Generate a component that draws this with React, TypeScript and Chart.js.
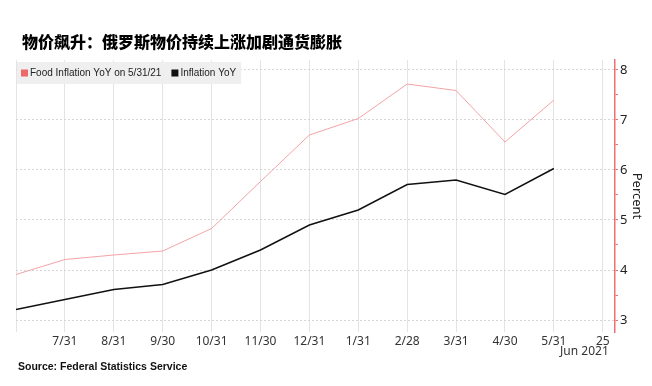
import { useEffect, useRef } from 'react';
import { Chart, registerables } from 'chart.js';

Chart.register(...registerables);

// Month-end dates (June 2020 .. May 2021), evenly spaced by month
const monthEnds = ['6/30', '7/31', '8/31', '9/30', '10/31', '11/30', '12/31', '1/31', '2/28', '3/31', '4/30', '5/31'];
// Axis tick labels (index 12 is the "25 Jun 2021" end tick)
const xTickLabels = ['', '7/31', '8/31', '9/30', '10/31', '11/30', '12/31', '1/31', '2/28', '3/31', '4/30', '5/31', '25'];
const xEndSubLabel = 'Jun 2021';
const foodInflation = [3.91, 4.21, 4.3, 4.38, 4.83, 5.77, 6.7, 7.03, 7.72, 7.59, 6.56, 7.4];
const inflation = [3.21, 3.41, 3.61, 3.71, 4.0, 4.4, 4.9, 5.2, 5.71, 5.8, 5.51, 6.03];
const yTickValues = [3, 3.5, 4, 4.5, 5, 5.5, 6, 6.5, 7, 7.5, 8];
const seriesNames = ['Food Inflation YoY on 5/31/21', 'Inflation YoY'];
const titleText = '物价飙升：俄罗斯物价持续上涨加剧通货膨胀';
const sourceText = 'Source: Federal Statistics Service';

export default function App() {
  const ref = useRef<HTMLCanvasElement | null>(null);

  useEffect(() => {
    document.body.style.margin = '0';
    const canvas = ref.current;
    if (!canvas) return;

    const legendPlugin = {
      id: 'customLegend',
      afterDraw(chart: any) {
        const ctx = chart.ctx as CanvasRenderingContext2D;
        ctx.save();
        ctx.font = '10px "Liberation Sans"';
        const items = chart.data.datasets.map((ds: any) => ({ label: ds.label, color: ds.legendColor }));
        const left = 17;
        const top = 62;
        const h = 22;
        let w = 4;
        items.forEach((it: any, i: number) => {
          w += 9 + ctx.measureText(it.label).width + (i < items.length - 1 ? 10 : 5);
        });
        ctx.fillStyle = '#efefef';
        ctx.fillRect(left, top, w, h);
        let cx = left + 4;
        const cy = top + h / 2;
        items.forEach((it: any) => {
          ctx.fillStyle = it.color;
          ctx.fillRect(cx, cy - 3.5, 7, 7);
          cx += 9;
          ctx.fillStyle = '#222';
          ctx.textBaseline = 'middle';
          ctx.textAlign = 'left';
          ctx.fillText(it.label, cx, cy);
          cx += ctx.measureText(it.label).width + 10;
        });
        const xs = chart.scales.x;
        const px = xs.getPixelForValue(xTickLabels.length - 1);
        ctx.font = '12px "Noto Sans"';
        ctx.textAlign = 'right';
        ctx.fillStyle = '#333';
        ctx.fillText(xEndSubLabel, px + 6, 352);
        ctx.restore();
      },
    };

    const tickFont = { family: '"Noto Sans"', size: 12 };

    const chart = new Chart(canvas, {
      type: 'line',
      data: {
        datasets: [
          {
            label: seriesNames[0],
            data: foodInflation.map((v, i) => ({ x: i, y: v })),
            borderColor: '#f4a3a6',
            borderWidth: 1,
            pointRadius: 0,
            tension: 0,
            legendColor: '#ec6a6a',
          } as any,
          {
            label: seriesNames[1],
            data: inflation.map((v, i) => ({ x: i, y: v })),
            borderColor: '#111111',
            borderWidth: 1.5,
            pointRadius: 0,
            tension: 0,
            legendColor: '#111111',
          } as any,
        ],
      },
      options: {
        animation: false,
        responsive: false,
        maintainAspectRatio: false,
        layout: { padding: { left: 16, top: 60, right: 0, bottom: 0 } },
        plugins: {
          legend: { display: false },
          tooltip: { enabled: false },
        },
        scales: {
          x: {
            type: 'linear',
            min: 0,
            max: 12.25,
            afterBuildTicks: (s: any) => {
              s.ticks = xTickLabels.map((_, i) => ({ value: i }));
            },
            afterFit: (s: any) => {
              s.height = 54;
            },
            grid: { color: '#e4e4e4', drawTicks: false },
            border: { display: false },
            ticks: {
              autoSkip: false,
              maxRotation: 0,
              padding: 2,
              color: '#333',
              font: tickFont,
              callback: (v: any) => xTickLabels[Math.round(Number(v))] ?? '',
            },
          },
          y: {
            type: 'linear',
            position: 'right',
            min: 2.76,
            max: 8.2,
            afterBuildTicks: (s: any) => {
              s.ticks = yTickValues.map((v) => ({ value: v }));
            },
            afterFit: (s: any) => {
              s.width = 37;
            },
            grid: {
              color: (c: any) => (c.tick && Number.isInteger(c.tick.value) ? '#d6d6d6' : 'rgba(0,0,0,0)'),
              tickColor: '#ee7070',
              tickLength: 3,
              drawTicks: true,
            },
            border: { display: true, color: '#ee7070', width: 1.5, dash: [2, 2] },
            ticks: {
              padding: 2,
              color: '#222',
              font: { family: '"Noto Sans"', size: 13 },
              callback: (v: any) => (Number.isInteger(Number(v)) ? String(v) : ''),
            },
            title: {
              display: true,
              text: 'Percent',
              color: '#222',
              font: { family: '"Noto Sans"', size: 13 },
              padding: 7,
            },
          },
        },
      },
      plugins: [legendPlugin],
    } as any);

    return () => chart.destroy();
  }, []);

  return (
    <div style={{ position: 'relative', width: 652, height: 386, background: '#fff', overflow: 'hidden' }}>
      <canvas ref={ref} width={652} height={386} style={{ position: 'absolute', left: 0, top: 0, width: 652, height: 386 }} />
      <div
        style={{
          position: 'absolute',
          left: 22,
          top: 33,
          fontFamily: '"Noto Sans CJK SC", sans-serif',
          fontWeight: 900,
          fontSize: 16,
          lineHeight: '16px',
          color: '#000',
          whiteSpace: 'nowrap',
        }}
      >
        {titleText}
      </div>
      <div
        style={{
          position: 'absolute',
          left: 18,
          top: 360,
          fontFamily: '"Liberation Sans", sans-serif',
          fontWeight: 700,
          fontSize: 10.5,
          lineHeight: '12px',
          color: '#111',
          whiteSpace: 'nowrap',
        }}
      >
        {sourceText}
      </div>
    </div>
  );
}
